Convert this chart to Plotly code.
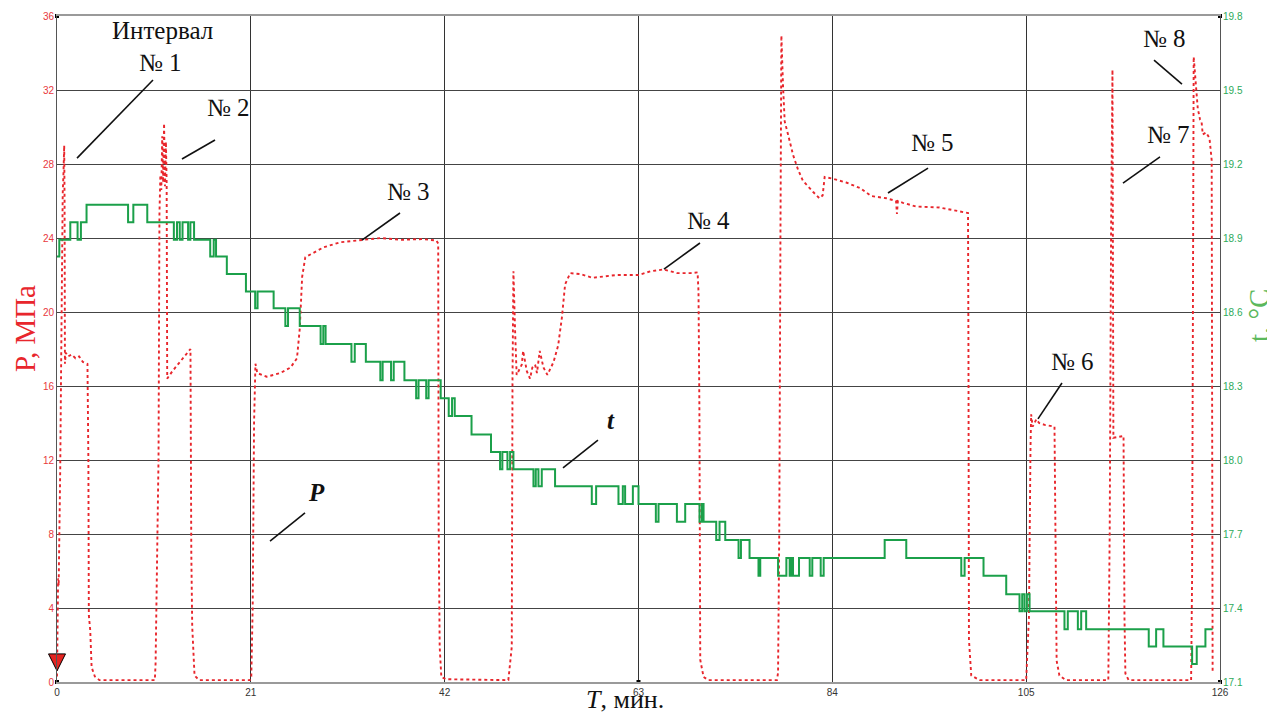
import plotly.graph_objects as go

# ---------------- data ----------------
# Pressure P (MPa) vs time (min)
p_time = [0.0, 0.05, 0.08, 0.12, 0.18, 0.25, 0.35, 0.45, 0.52, 0.62, 0.7, 0.78, 0.82, 0.86, 0.95, 1.2, 1.6, 2.0, 2.4, 2.8, 3.3, 3.4, 3.45, 3.6, 3.75, 4.1, 4.6, 10.6,
          10.68, 10.85, 11.0, 11.1, 11.2, 11.3, 11.4, 11.5, 11.6, 11.7, 11.8, 11.88, 11.94, 12.5, 13.0, 13.5, 14.0, 14.46, 14.55, 14.65, 14.9, 15.4, 20.9,
          21.05, 21.2, 21.35, 21.5, 21.7, 22.7, 24.2, 25.3, 26.0, 26.3, 26.56, 26.9, 27.8, 28.9, 30.7, 32.9, 35.1, 37.3, 39.5, 41.1, 41.3, 41.35, 41.46, 41.64, 42.2, 48.9,
          49.1, 49.27, 49.35, 49.45, 49.63, 49.8, 50.35, 50.5, 50.9, 51.25, 51.5, 51.8, 52.0, 52.3, 52.7, 53.13, 53.8, 54.3, 54.7, 55.05, 55.6, 56.7, 58.0, 58.8, 60.65, 63.0, 64.3, 65.7, 67.2, 68.6, 69.4, 69.5, 69.6, 69.69, 70.05, 70.6, 78.0,
          78.12, 78.25, 78.38, 78.48, 78.66, 78.84, 79.2, 79.74, 80.28, 80.8, 81.9, 82.6, 82.95, 83.17, 84.07, 85.5, 87.0, 88.2, 89.85, 90.9, 91.0, 91.1, 91.65, 93.1, 95.6, 97.8, 98.7, 98.75, 98.8, 99.05, 99.95, 105.0,
          105.3, 105.47, 105.54, 105.7, 106.1, 106.4, 107.0, 108.07, 108.15, 108.3, 108.6, 109.3, 113.9,
          114.05, 114.2, 114.35, 114.45, 115.55, 115.65, 115.75, 116.1, 122.87,
          122.98, 123.05, 123.15, 123.4, 123.59, 123.84, 124.0, 124.13, 124.5, 124.86, 125.1, 125.2]
p_value = [0.3, 2.5, 5.0, 5.6, 5.2, 7.0, 11.5, 17.2, 23.3, 26.4, 27.5, 29.0, 26.0, 17.2, 17.8, 17.6, 17.7, 17.5, 17.6, 17.3, 17.2, 12.0, 3.6, 2.8, 0.8, 0.3, 0.1, 0.1,
           1.0, 6.4, 12.1, 25.3, 27.4, 26.6, 29.5, 27.0, 30.2, 26.8, 29.2, 27.0, 16.4, 16.8, 17.1, 17.4, 17.7, 18.0, 7.0, 3.0, 0.35, 0.1, 0.1,
           0.3, 4.0, 14.0, 17.2, 16.7, 16.5, 16.7, 17.0, 17.5, 19.1, 21.9, 22.96, 23.2, 23.5, 23.77, 23.87, 24.0, 23.9, 23.94, 23.87, 23.7, 8.4, 1.9, 0.27, 0.15, 0.1,
           1.2, 1.9, 16.4, 22.2, 19.0, 16.6, 17.15, 17.9, 16.8, 16.4, 17.0, 17.15, 16.7, 17.9, 17.0, 16.6, 17.3, 18.2, 19.7, 21.5, 22.1, 22.05, 21.85, 21.9, 22.0, 22.0, 22.2, 22.3, 22.1, 22.1, 22.14, 21.1, 14.6, 1.2, 0.27, 0.1, 0.1,
           0.5, 8.1, 24.3, 34.95, 32.2, 30.3, 29.6, 28.5, 27.7, 27.1, 26.5, 26.15, 26.3, 27.3, 27.2, 27.0, 26.7, 26.27, 26.15, 26.0, 25.3, 26.0, 25.9, 25.7, 25.65, 25.46, 25.35, 17.4, 2.3, 0.35, 0.1, 0.1,
           3.5, 12.7, 14.47, 13.8, 14.2, 14.0, 13.9, 13.8, 10.4, 1.15, 0.35, 0.1, 0.1,
           8.1, 24.3, 33.1, 13.2, 13.3, 3.5, 0.46, 0.1, 0.1,
           5.8, 24.0, 33.8, 32.2, 31.0, 30.4, 30.3, 29.6, 29.7, 29.4, 28.2, 0.6]

# Temperature t (°C) step series vs time (min)
t_time = [0.0, 0.25, 1.44, 2.23, 2.59, 3.2, 7.7, 8.27, 9.78, 12.66, 13.0, 13.3, 13.6, 14.2, 14.45, 14.85,
          16.6, 16.98, 17.23, 18.4, 20.47, 21.47, 21.73, 23.47, 24.74, 25.03, 26.3, 28.56, 28.85, 29.1,
          31.9, 32.26, 33.46, 35.03, 35.28, 36.19, 36.48, 37.64, 38.91, 39.17, 40.0, 40.26, 41.57, 42.44, 42.8,
          43.09, 44.91, 47.02, 48.0, 48.25, 48.8, 49.09, 49.45, 51.62, 51.87, 52.16, 52.52, 53.96, 57.94, 58.41,
          60.83, 61.3, 61.55, 62.39, 63.0, 64.88, 65.17, 67.16, 68.06, 69.61, 69.87, 70.05, 71.42, 71.78, 72.4,
          73.84, 74.1, 75.03, 76.0, 76.19, 78.12, 79.02, 79.38, 79.56, 79.74, 80.39, 81.55, 81.83, 82.74, 83.06,
          89.67, 92.01, 97.97, 98.33, 100.38, 102.84, 104.28, 104.57, 104.82, 105.08, 105.37, 109.15, 109.51,
          110.6, 110.96, 111.5, 118.28, 119.08, 119.87, 122.98, 123.48, 124.42, 125.2]
t_value = [18.825, 18.893, 18.964, 18.893, 18.964, 19.035, 18.964, 19.035, 18.964, 18.893, 18.964, 18.893, 18.964, 18.893, 18.964, 18.893,
           18.825, 18.893, 18.825, 18.754, 18.683, 18.615, 18.683, 18.615, 18.543, 18.615, 18.543, 18.470, 18.543, 18.470,
           18.398, 18.470, 18.398, 18.323, 18.398, 18.323, 18.398, 18.323, 18.250, 18.323, 18.250, 18.323, 18.250, 18.178, 18.250,
           18.178, 18.103, 18.032, 17.963, 18.032, 17.963, 18.032, 17.963, 17.894, 17.963, 17.894, 17.963, 17.894, 17.822, 17.894,
           17.822, 17.894, 17.822, 17.894, 17.822, 17.750, 17.822, 17.750, 17.822, 17.750, 17.822, 17.750, 17.676, 17.750, 17.676,
           17.603, 17.676, 17.603, 17.531, 17.603, 17.531, 17.603, 17.531, 17.603, 17.531, 17.603, 17.531, 17.603, 17.531, 17.603,
           17.676, 17.603, 17.531, 17.603, 17.531, 17.456, 17.387, 17.456, 17.387, 17.456, 17.387, 17.314, 17.387,
           17.314, 17.387, 17.314, 17.244, 17.314, 17.244, 17.173, 17.244, 17.314, 17.314]

x_ticks = [0, 21, 42, 63, 84, 105, 126]
p_ticks = [0, 4, 8, 12, 16, 20, 24, 28, 32, 36]
t_ticks = [17.1, 17.4, 17.7, 18.0, 18.3, 18.6, 18.9, 19.2, 19.5, 19.8]

# labels: (text, x, y) and leader lines (x0, y0, x1, y1) in data units
labels = [("Интервал", 11.48, 35.24), ("№ 1", 11.16, 33.46), ("№ 2", 18.53, 31.03),
          ("№ 3", 38.03, 26.49), ("№ 4", 70.53, 24.97), ("№ 5", 94.9, 29.14),
          ("№ 6", 109.97, 17.3), ("№ 7", 120.37, 29.57), ("№ 8", 120.0, 34.81)]
curve_labels = [("<b><i>t</i></b>", 60.02, 14.16), ("<b><i>P</i></b>", 28.06, 10.27)]
leaders = [(10.4, 32.54, 2.17, 28.32), (17.12, 29.3, 13.54, 28.27), (37.16, 25.35, 33.04, 23.89),
           (69.66, 23.73, 65.76, 22.32), (94.37, 27.78, 90.03, 26.43), (108.88, 16.16, 106.28, 14.22),
           (119.5, 28.38, 115.49, 26.97), (118.85, 33.62, 121.88, 32.32),
           (58.61, 13.08, 54.82, 11.57), (26.87, 9.14, 23.08, 7.62)]

RED = "#e8262c"
GREEN = "#1ba04a"
SERIF = "Liberation Serif, Times New Roman, serif"
SANS = "Liberation Sans, Arial, sans-serif"

fig = go.Figure()
fig.add_trace(go.Scatter(x=t_time, y=t_value, yaxis="y2", mode="lines",
                         line=dict(color=GREEN, width=2, shape="hv"), hoverinfo="skip"))
fig.add_trace(go.Scatter(x=p_time, y=p_value, mode="lines",
                         line=dict(color=RED, width=1.9, dash="dot"), hoverinfo="skip"))
# start arrow
fig.add_trace(go.Scatter(x=[0], y=[0.6], mode="markers", cliponaxis=False,
                         marker=dict(symbol="arrow-down", size=17, color="#e52421",
                                     line=dict(color="black", width=1)), hoverinfo="skip"))
# corner squares
fig.add_trace(go.Scatter(x=[0, 126, 0, 126, 63], y=[0, 0, 36, 36, 0], mode="markers", cliponaxis=False,
                         marker=dict(symbol="square", size=4, color="black"), hoverinfo="skip"))

for txt, x, y in labels:
    fig.add_annotation(x=x, y=y, text=txt, showarrow=False,
                       font=dict(family=SERIF, size=25, color="#111"))
for txt, x, y in curve_labels:
    fig.add_annotation(x=x, y=y, text=txt, showarrow=False,
                       font=dict(family=SERIF, size=25, color="#111"))
for x0, y0, x1, y1 in leaders:
    fig.add_shape(type="line", x0=x0, y0=y0, x1=x1, y1=y1, xref="x", yref="y",
                  line=dict(color="#111", width=1.6))

# axis titles
fig.add_annotation(xref="paper", yref="paper", x=0.488, y=0, yshift=-34, yanchor="bottom",
                   xanchor="center", text="<i>T</i>, мин.", showarrow=False,
                   font=dict(family=SERIF, size=26, color="#111"))
fig.add_annotation(xref="paper", yref="paper", x=0, xshift=-32, y=0.53, textangle=-90,
                   xanchor="center", yanchor="middle",
                   text="P, МПа", showarrow=False, font=dict(family=SERIF, size=29, color=RED))
fig.add_annotation(xref="paper", yref="paper", x=1, xshift=39, y=0.551, textangle=-90,
                   xanchor="center", yanchor="middle",
                   text="t, °C", showarrow=False, font=dict(family=SERIF, size=29, color="#5cb85c"))

# the page body has an 8px margin, so the figure is sized/margined to put the plot at 57..1220 x 16..682
fig.update_layout(
    width=1267, height=707,
    margin=dict(l=49, r=55, t=8, b=33),
    plot_bgcolor="white", paper_bgcolor="white",
    showlegend=False,
    xaxis=dict(range=[0, 126], tickvals=x_ticks, showgrid=True, gridcolor="#333", gridwidth=1,
               zeroline=False, showline=True, linecolor="#9a9a9a", linewidth=2, mirror=True,
               ticks="", tickfont=dict(family=SANS, size=10, color="#333"), automargin=False),
    yaxis=dict(range=[0, 36], tickvals=p_ticks, showgrid=True, gridcolor="#444", gridwidth=1,
               zeroline=False, showline=True, linecolor="#555", linewidth=1, automargin=False,
               ticks="", tickfont=dict(family=SANS, size=10, color="#e8383d")),
    yaxis2=dict(range=[17.1, 19.8], tickvals=t_ticks, tickformat=".1f", overlaying="y", side="right",
                showgrid=False, zeroline=False, showline=True, linecolor="#555", linewidth=1,
                automargin=False,
                ticks="", tickfont=dict(family=SANS, size=10, color="#2daa5a")),
)

fig.write_html("out.html")
